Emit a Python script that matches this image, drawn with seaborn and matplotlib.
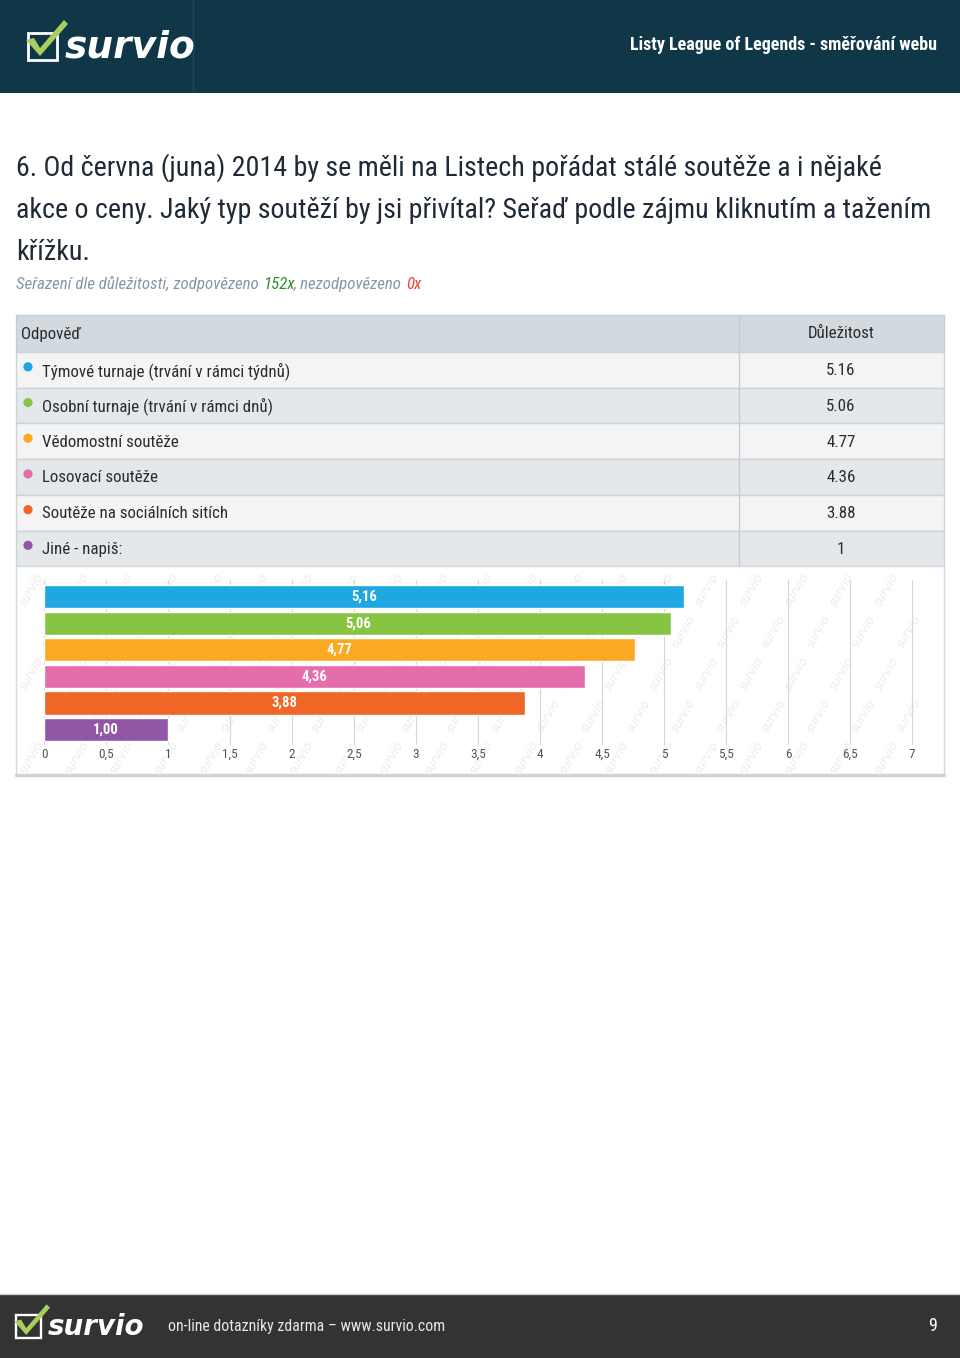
import matplotlib
matplotlib.use("Agg")
import matplotlib.pyplot as plt
import seaborn as sns
import pandas as pd
from matplotlib import font_manager
from matplotlib.patches import Rectangle, Polygon, Circle

W, H = 960, 1358

header_title = "Listy League of Legends - směřování webu"
question_lines = [
    "6. Od června (juna) 2014 by se měli na Listech pořádat stálé soutěže a i nějaké",
    "akce o ceny. Jaký typ soutěží by jsi přivítal? Seřaď podle zájmu kliknutím a tažením",
    "křížku.",
]
subtitle_parts = [
    ("Seřazení dle důležitosti, zodpovězeno ", "#8696a6"),
    ("152x", "#2f8f2f"),
    (", nezodpovězeno ", "#8696a6"),
    ("0x", "#e0453a"),
]
col_answer = "Odpověď"
col_value = "Důležitost"
answers = [
    "Týmové turnaje (trvání v rámci týdnů)",
    "Osobní turnaje (trvání v rámci dnů)",
    "Vědomostní soutěže",
    "Losovací soutěže",
    "Soutěže na sociálních sitích",
    "Jiné - napiš:",
]
importance = [5.16, 5.06, 4.77, 4.36, 3.88, 1.00]
table_values = ["5.16", "5.06", "4.77", "4.36", "3.88", "1"]
bar_labels = ["5,16", "5,06", "4,77", "4,36", "3,88", "1,00"]
colors = ["#1ea7e0", "#88c444", "#fba823", "#e56dab", "#ef6626", "#9156a5"]
x_ticks = [0, 0.5, 1, 1.5, 2, 2.5, 3, 3.5, 4, 4.5, 5, 5.5, 6, 6.5, 7]
x_tick_labels = ["0", "0,5", "1", "1,5", "2", "2,5", "3", "3,5", "4", "4,5",
                 "5", "5,5", "6", "6,5", "7"]
footer_text = "on-line dotazníky zdarma – www.survio.com"
page_no = "9"

# pick a narrow font if one is installed
names = {f.name for f in font_manager.fontManager.ttflist}
narrow = next((n for n in ["Roboto Condensed", "Liberation Sans Narrow",
                           "Open Sans Condensed", "Noto Sans Condensed"]
               if n in names), None)
if narrow is None:
    FONT = dict(family=["DejaVu Sans"], stretch="condensed")
else:
    FONT = dict(family=[narrow, "DejaVu Sans"])

sns.set_theme(style="white")
plt.rcParams["font.family"] = FONT["family"]

fig = plt.figure(figsize=(W / 100, H / 100), dpi=100)
fig.patch.set_facecolor("white")

# background axes in pixel coordinates
bg = fig.add_axes([0, 0, 1, 1], zorder=0)
bg.set_xlim(0, W)
bg.set_ylim(H, 0)
bg.axis("off")


def txt(x, y, s, **kw):
    opts = dict(FONT)
    opts.update(kw)
    return bg.text(x, y, s, **opts)


def logo(x, y, scale, fs):
    # box outline + check mark + wordmark
    bg.add_patch(Rectangle((x, y + 11 * scale), 29 * scale, 27 * scale,
                           fill=False, ec="white", lw=2 * scale))
    check = [(x - 2 * scale, y + 18 * scale), (x + 6 * scale, y + 16 * scale),
             (x + 12 * scale, y + 26 * scale), (x + 36 * scale, y - 2 * scale),
             (x + 40 * scale, y + 2 * scale), (x + 12 * scale, y + 34 * scale)]
    bg.add_patch(Polygon(check, closed=True, fc="#a9cf5f", ec="none"))
    bg.text(x + 37 * scale, y + 25 * scale, "survio", color="white",
            fontsize=fs, fontweight="bold", fontstyle="italic",
            family="DejaVu Sans", va="center", ha="left")


# header
bg.add_patch(Rectangle((0, 0), W, 93, fc="#0f3748", ec="none"))
bg.plot([193, 193], [0, 92], color="#1b4757", lw=1)
logo(28, 22, 1.0, 27)
txt(937, 45, header_title, color="white", fontsize=13, fontweight="bold",
    ha="right", va="center")

# question
for i, line in enumerate(question_lines):
    txt(16, 168 + i * 42, line, color="#1f2a36", fontsize=20.2, va="center")

prev = None
for s, c in subtitle_parts:
    if prev is None:
        prev = txt(16, 284, s, color=c, fontsize=12.2, fontstyle="italic",
                   va="center")
    else:
        prev = bg.annotate(s, xy=(1, 0), xycoords=prev, va="bottom",
                           color=c, fontsize=12.2, fontstyle="italic", **FONT)

# table
tx0, tx1, tdiv = 16, 944, 739
bg.add_patch(Rectangle((tx0, 315), tx1 - tx0, 37, fc="#d3dadf", ec="#c5ccd2", lw=1))
txt(21, 334, col_answer, color="#2b2b2b", fontsize=12.2, va="center")
txt(841, 334, col_value, color="#2b2b2b", fontsize=12.2, va="center", ha="center")
row_h = 35.7
for i, (a, v) in enumerate(zip(answers, table_values)):
    y0 = 352 + i * row_h
    fc = "#f4f4f4" if i % 2 == 0 else "#e4e8eb"
    bg.add_patch(Rectangle((tx0, y0), tx1 - tx0, row_h, fc=fc, ec="#cdd3d7", lw=1))
    yc = y0 + row_h / 2
    bg.add_patch(Circle((28, yc - 3), 4.6, fc=colors[i], ec="none"))
    txt(42, yc + 1, a, color="#2b2b2b", fontsize=12.2, va="center")
    txt(841, yc + 1, v, color="#2b2b2b", fontsize=12.2, va="center", ha="center")
bg.plot([tdiv, tdiv], [315, 566], color="#c5ccd2", lw=1)

# chart box with faint watermark (kept fully inside the box)
bg.add_patch(Rectangle((tx0, 566), tx1 - tx0, 209, fc="white", ec="#d3d8dc", lw=1))
bg.plot([tx0, tx1], [775, 775], color="#cfd3d6", lw=2.5)
for r in range(5):
    for k in range(22):
        wx = 32 + k * 45 + (r % 2) * 22
        wy = 590 + r * 42
        if wx > tx1 - 14:
            continue
        bg.text(wx, wy, "survio", color="#ececec", fontsize=8.5,
                fontstyle="italic", rotation=60, ha="center", va="center",
                family="DejaVu Sans")

# bar chart
ax = fig.add_axes([44 / W, 1 - 745 / H, 870.5 / W, 165 / H], zorder=2)
df = pd.DataFrame({"answer": answers, "importance": importance})
sns.barplot(data=df, x="importance", y="answer", hue="answer", palette=colors,
            legend=False, width=0.87, saturation=1, ax=ax, order=answers,
            hue_order=answers)
ax.set_facecolor("none")
ax.set_xlim(0, 7.02)
ax.set_ylim(5.58, -0.62)
ax.set_xticks(x_ticks)
ax.set_xticklabels(x_tick_labels, fontsize=9.5, color="#555555")
ax.set_yticks([])
ax.set_xlabel("")
ax.set_ylabel("")
ax.tick_params(axis="x", length=0, pad=2)
ax.xaxis.grid(True, color="#d6d6d6", lw=0.8)
ax.set_axisbelow(True)
for sp in ax.spines.values():
    sp.set_visible(False)
for cont, lab in zip(ax.containers, bar_labels):
    ax.bar_label(cont, labels=[lab], label_type="center", color="white",
                 fontsize=10.5, fontweight="bold")

# footer
bg.add_patch(Rectangle((0, 1295), W, 63, fc="#333333", ec="none"))
bg.plot([0, W], [1294, 1294], color="#cccccc", lw=1)
logo(16, 1306, 0.85, 20)
txt(168, 1327, footer_text, color="#e6e6e6", fontsize=11.4, va="center")
txt(937, 1326, page_no, color="white", fontsize=13, va="center", ha="right")

fig.savefig("out.png", dpi=100)
